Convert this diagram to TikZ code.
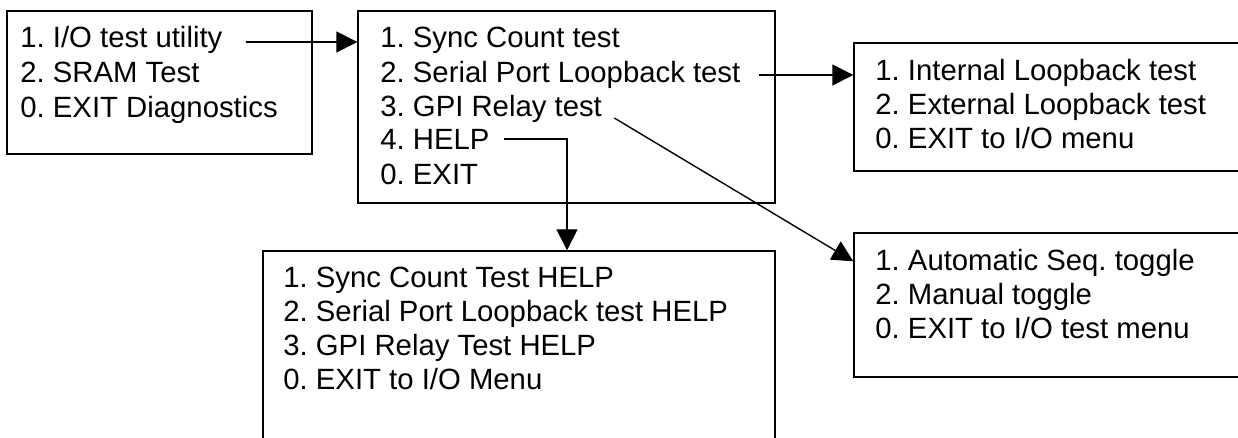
\documentclass[tikz,border=0pt]{standalone}
\usepackage{fontspec}
\setmainfont{Liberation Sans}
\usetikzlibrary{arrows.meta,fit,calc}
\frenchspacing

\begin{document}
\begin{tikzpicture}[x=0.5pt, y=-0.5pt,
    menu/.style={draw, line width=0.7pt, inner sep=0pt},
    entry/.style={anchor=base west, inner sep=0pt, font=\fontsize{14.65pt}{17pt}\selectfont},
    link/.style={line width=0.7pt, -{Triangle[length=10.5pt, width=10.5pt]}}]
    \useasboundingbox (0,0) rectangle (1238,438);
    \clip (0,0) rectangle (1238,438);

    % Define the menu frames
    \node[menu, fit={(7,11) (312,154)}] (diagmenu) {};
    \node[menu, fit={(358,11) (775,203)}] (iomenu) {};
    \node[menu, fit={(854,43) (1260,171)}] (loopmenu) {};
    \node[menu, fit={(854,233) (1260,377)}] (relaymenu) {};
    \node[menu, fit={(263,251) (775,470)}] (helpmenu) {};

    % Diagnostics menu
    \node[entry] (diagio) at (20,48) {1. I/O test utility};
    \node[entry] (diagsram) at (20,83) {2. SRAM Test};
    \node[entry] (diagexit) at (20,118) {0. EXIT Diagnostics};

    % I/O test menu
    \node[entry] (iosync) at (380,48) {1. Sync Count test};
    \node[entry] (ioserial) at (380,83) {2. Serial Port Loopback test};
    \node[entry] (iorelay) at (380,117) {3. GPI Relay test};
    \node[entry] (iohelp) at (380,150) {4. HELP};
    \node[entry] (ioexit) at (380,185) {0. EXIT};

    % Loopback menu
    \node[entry] (loopint) at (875,81) {1. Internal Loopback test};
    \node[entry] (loopext) at (875,115) {2. External Loopback test};
    \node[entry] (loopexit) at (875,149) {0. EXIT to I/O menu};

    % Relay menu
    \node[entry] (relayauto) at (875,271) {1. Automatic Seq. toggle};
    \node[entry] (relaymanual) at (875,305) {2. Manual toggle};
    \node[entry] (relayexit) at (875,339) {0. EXIT to I/O test menu};

    % Help menu
    \node[entry] (helpsync) at (283,288) {1. Sync Count Test HELP};
    \node[entry] (helpserial) at (283,322) {2. Serial Port Loopback test HELP};
    \node[entry] (helprelay) at (283,356) {3. GPI Relay Test HELP};
    \node[entry] (helpexit) at (283,390) {0. EXIT to I/O Menu};

    % Draw the links between menus
    \draw[link] ($(diagio.base east)+(23,-6)$) -- ($(diagio.base east -| iomenu.west)+(0,-6)$);
    \draw[link] ($(ioserial.base east)+(18,-8)$) -- ($(ioserial.base east -| loopmenu.west)+(0,-8)$);
    \draw[link] ($(iorelay.base east)+(12,1)$) -- ($(relaymenu.north west)+(0,29)$);
    \draw[link] ($(iohelp.base east)+(14,-11)$) -| ($(helpmenu.north)+(48,0)$);
\end{tikzpicture}
\end{document}
